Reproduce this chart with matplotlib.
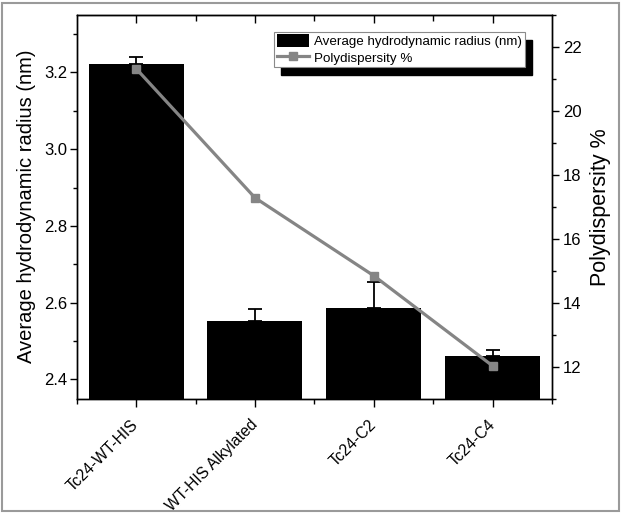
import matplotlib
matplotlib.use("Agg")
import matplotlib.pyplot as plt
from matplotlib.patches import Rectangle
from matplotlib.ticker import MultipleLocator, FixedLocator
from matplotlib.transforms import ScaledTranslation

plt.rcParams["font.family"] = ["Liberation Sans", "DejaVu Sans"]

samples = ["Tc24-WT-HIS", "WT-HIS Alkylated", "Tc24-C2", "Tc24-C4"]
radius_nm = [3.222, 2.553, 2.585, 2.461]
radius_err = [0.019, 0.030, 0.068, 0.016]
polydispersity = [21.32, 17.28, 14.84, 12.02]

fig = plt.figure(figsize=(6.21, 5.14), dpi=100)
ax = fig.add_axes([0.1235, 0.2247, 0.7655, 0.7463])
ax2 = ax.twinx()

x = list(range(len(samples)))
bars = ax.bar(x, radius_nm, width=0.8, color="black", zorder=2,
              label="Average hydrodynamic radius (nm)")
ax.errorbar(x, radius_nm, yerr=[[0] * len(x), radius_err], fmt="none",
            ecolor="black", elinewidth=1.3, capsize=5, capthick=1.3, zorder=3)

line, = ax2.plot(x, polydispersity, color="#858585", lw=2.3, marker="s",
                 markersize=5.5, label="Polydispersity %")

ax.set_xlim(-0.5, 3.5)
ax.set_ylim(2.35, 3.35)
ax2.set_ylim(11, 23)

ax.yaxis.set_major_locator(MultipleLocator(0.2))
ax.yaxis.set_minor_locator(MultipleLocator(0.1))
ax2.yaxis.set_major_locator(MultipleLocator(2))
ax2.yaxis.set_minor_locator(MultipleLocator(1))
ax.set_xticks(x)
ax.xaxis.set_minor_locator(FixedLocator([-0.5, 0.5, 1.5, 2.5, 3.5]))

ax.set_xticklabels(samples, rotation=45, ha="right", va="center",
                   rotation_mode="anchor", fontsize=11.3)
shift = ScaledTranslation(5 / 100, 0, fig.dpi_scale_trans)
for lbl in ax.get_xticklabels():
    lbl.set_transform(lbl.get_transform() + shift)
ax.tick_params(axis="x", which="major", direction="out", length=6, width=1, pad=11)
ax.tick_params(axis="x", which="minor", direction="out", length=3.5, width=1)
ax.tick_params(axis="y", which="major", direction="out", length=5, width=1,
               labelsize=12, pad=2, right=False)
ax.tick_params(axis="y", which="minor", direction="out", length=3, width=1, right=False)
ax2.tick_params(axis="y", which="major", direction="out", length=5, width=1,
                labelsize=12, pad=3)
ax2.tick_params(axis="y", which="minor", direction="out", length=3, width=1)

top = ax.secondary_xaxis("top")
top.set_xticks(x)
top.xaxis.set_minor_locator(FixedLocator([0.5, 1.5, 2.5]))
top.tick_params(which="major", direction="in", length=6, width=1, labeltop=False)
top.tick_params(which="minor", direction="in", length=4, width=1)

ax.set_ylabel("Average hydrodynamic radius (nm)", fontsize=14.5, labelpad=6)
ax2.set_ylabel("Polydispersity %", fontsize=15.5, labelpad=6)

for a in (ax, ax2):
    for s in a.spines.values():
        s.set_linewidth(1)

leg = ax2.legend([bars, line], [bars.get_label(), line.get_label()],
                 loc="upper left", bbox_to_anchor=(0.415, 0.956),
                 borderaxespad=0, fontsize=9.6, frameon=True, fancybox=False,
                 framealpha=1, edgecolor="#8a8a8a", borderpad=0.2,
                 labelspacing=0.2, handlelength=2.4, handleheight=1.05,
                 handletextpad=0.4)
leg.get_frame().set_linewidth(0.8)
leg.set_zorder(10)

# offset black shadow behind the legend box
fig.canvas.draw()
bb = leg.get_window_extent().transformed(fig.transFigure.inverted())
dx, dy = 7 / 621, 8 / 514
shadow = Rectangle((bb.x0 + dx, bb.y0 - dy), bb.width, bb.height,
                   transform=fig.transFigure, color="black", zorder=9)
ax2.add_artist(shadow)

fig.patches.append(Rectangle((0.004, 0.005), 0.992, 0.99, transform=fig.transFigure,
                             fill=False, edgecolor="#9a9a9a", linewidth=1.5))

fig.savefig("out.png", dpi=100)
